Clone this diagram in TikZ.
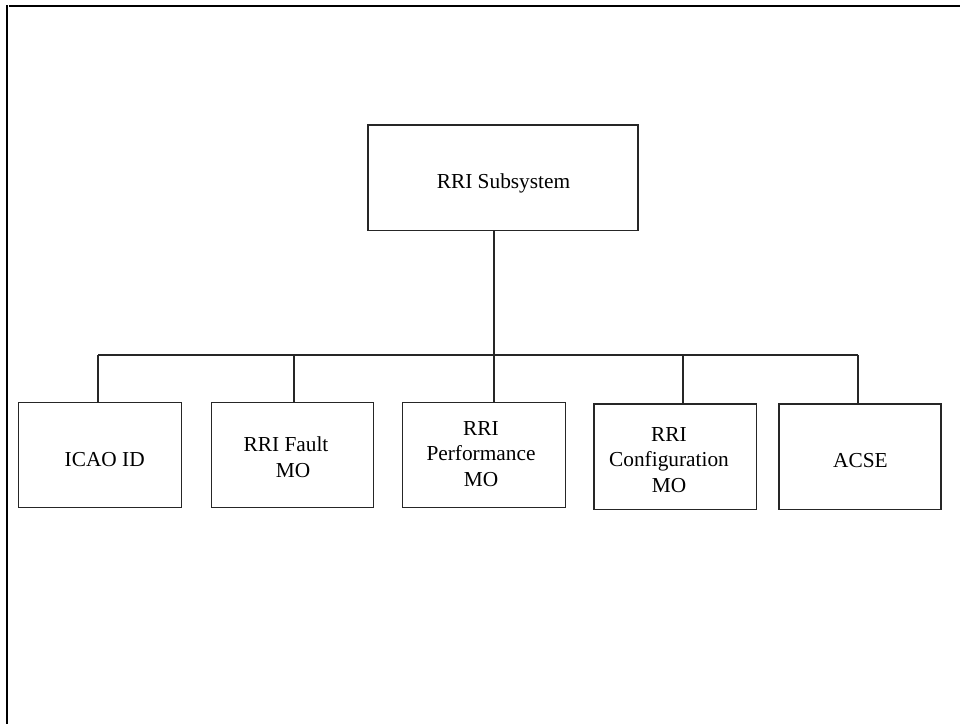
\documentclass[tikz,border=0pt]{standalone}
\usepackage{fontspec}
\setmainfont{Liberation Serif}
\begin{document}
\begin{tikzpicture}[x=0.75pt,y=-0.75pt,
  box/.style={draw=black!85,line width=0.8pt,inner sep=0pt,outer sep=0pt,rectangle},
  lbl/.style={inner sep=0pt,anchor=base,align=center,font=\fontsize{16pt}{19.3pt}\selectfont},
  conn/.style={draw=black!85,line width=0.8pt},
  frame/.style={draw=black,line width=1.5pt}]
\useasboundingbox (0,0) rectangle (960,724);
% outer frame (left and top only)
\coordinate (fl1) at (6.7,5.5);
\coordinate (fl2) at (6.7,724);
\coordinate (ft1) at (8.7,6.5);
\coordinate (ft2) at (960,6.5);
\draw[frame] (fl1) -- (fl2);
\draw[frame] (ft1) -- (ft2);
% boxes
\node[box,minimum width=270*0.75pt,minimum height=105.5*0.75pt] (sub) at (503,177.75) {};
\node[box,minimum width=163.4*0.75pt,minimum height=105.4*0.75pt] (icao) at (100,455) {};
\node[box,minimum width=162.3*0.75pt,minimum height=105.4*0.75pt] (fault) at (292.2,455) {};
\node[box,minimum width=163*0.75pt,minimum height=105.4*0.75pt] (perf) at (484.2,455) {};
\node[box,minimum width=162.7*0.75pt,minimum height=105.3*0.75pt] (conf) at (675.35,456.65) {};
\node[box,minimum width=162*0.75pt,minimum height=105.3*0.75pt] (acse) at (860,456.65) {};
% texts (base anchor = baseline of the last line)
\node[lbl] (subt) at (503.5,188.3) {RRI Subsystem};
\node[lbl] (icaot) at (104.7,466.7) {ICAO ID};
\node[lbl] (faultt) at (286,477.3) {RRI Fault\\\hspace*{10.5pt}MO};
\node[lbl] (perft) at (481,486.7) {RRI\\Performance\\MO};
\node[lbl] (conft) at (669,492.7) {RRI\\Configuration\\MO};
\node[lbl] (acset) at (860.5,467) {ACSE};
% connectors
\coordinate (j0) at (494,355);
\coordinate (j1) at (98,355);
\coordinate (j2) at (294,355);
\coordinate (j3) at (494,355);
\coordinate (j4) at (683,355);
\coordinate (j5) at (858,355);
\draw[conn] (sub.south -| j0) -- (j0);
\draw[conn] (j1) -- (j5);
\draw[conn] (j1) -- (j1 |- icao.north);
\draw[conn] (j2) -- (j2 |- fault.north);
\draw[conn] (j3) -- (j3 |- perf.north);
\draw[conn] (j4) -- (j4 |- conf.north);
\draw[conn] (j5) -- (j5 |- acse.north);
\end{tikzpicture}
\end{document}
